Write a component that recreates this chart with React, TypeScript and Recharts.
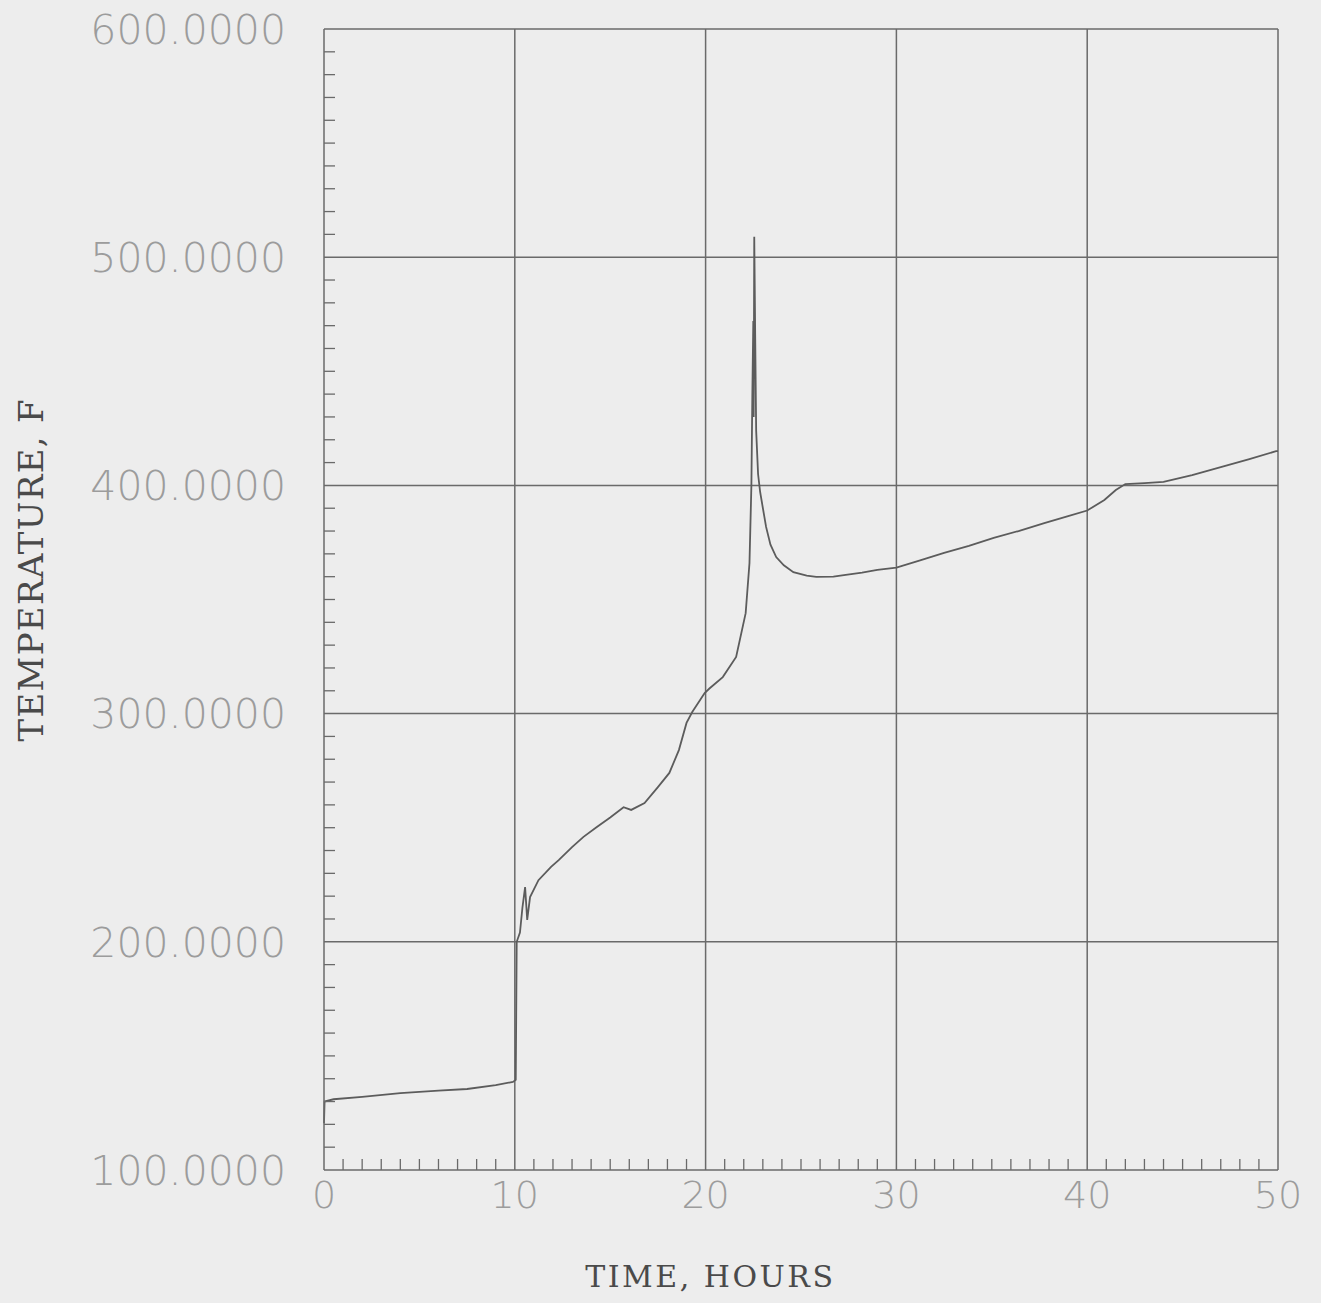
import { LineChart, Line, XAxis, YAxis, ReferenceLine } from 'recharts';

// Time in hours and temperature in degrees F
const hours = [
  0, 0.03, 0.5, 2, 4, 6, 7.5, 9, 9.9, 10.05,
  10.1, 10.27, 10.4, 10.54, 10.65, 10.8, 11.24, 11.9, 12.3, 13.0,
  13.6, 14.3, 15.0, 15.7, 16.1, 16.8, 17.5, 18.1, 18.6, 19.0,
  19.3, 19.95, 20.2, 20.9, 21.6, 22.1, 22.3, 22.4, 22.45, 22.5,
  22.52, 22.55, 22.6, 22.65, 22.75, 22.86, 23.17, 23.4, 23.7, 24.1,
  24.6, 25.3, 25.8, 26.7, 27.25, 28.2, 29.0, 30.0, 31.2, 32.5,
  33.8, 35.1, 36.4, 37.75, 39.0, 40.0, 40.9, 41.5, 42.0, 43.0,
  44.0, 45.5, 47.0, 48.5, 49.9, 50.0,
];
const temperatureF = [
  120.5, 130, 131, 132, 133.7, 134.8, 135.5, 137.2, 138.6, 139.5,
  200, 204, 215, 224, 209.6, 219.6, 227, 232.8, 235.8, 241.5,
  246, 250.3, 254.5, 259, 257.8, 260.8, 267.8, 274, 284, 295.9,
  300.7, 309, 311, 316, 324.8, 344, 366, 400, 440, 472,
  430, 509, 465, 424, 405, 397, 381.8, 374, 368.6, 365,
  362, 360.5, 359.9, 360, 360.7, 361.8, 363, 364, 367, 370.4,
  373.5, 377, 380, 383.5, 386.5, 389, 393.6, 398, 400.6, 401,
  401.5, 404.5, 408, 411.5, 415, 415,
];

const xMajor = [0, 10, 20, 30, 40, 50];
const yMajor = [100, 200, 300, 400, 500, 600];
const xAllTicks = Array.from({ length: 51 }, (_, i) => i);
const yAllTicks = Array.from({ length: 51 }, (_, i) => 100 + i * 10);

const data = hours.map((h, i) => ({ hours: h, temp: temperatureF[i] }));

const INK = '#6a6a6a';
const LABEL_GRAY = '#9c9c9c';
const X_MARGIN = 10;
const Y_MARGIN = 38;
const MINOR_LEN = 11;

function HourTick(props: any) {
  const { x, y, payload } = props;
  const axisY = y - X_MARGIN;
  const v = payload.value;
  if (v % 10 === 0) {
    return (
      <text x={x} y={axisY + 38} textAnchor="middle" fontFamily="DejaVu Sans" fontWeight={300}
        fontSize={38} fill={LABEL_GRAY}>{v}</text>
    );
  }
  return <line x1={x} x2={x} y1={axisY} y2={axisY - MINOR_LEN} stroke={INK} strokeWidth={1.3} />;
}

function TempTick(props: any) {
  const { x, y, payload } = props;
  const axisX = x + Y_MARGIN;
  const v = payload.value;
  if (v % 100 === 0) {
    return (
      <text x={x} y={y} dy="0.36em" textAnchor="end" fontFamily="DejaVu Sans" fontWeight={300}
        fontSize={41} fill={LABEL_GRAY}>{v.toFixed(4)}</text>
    );
  }
  return <line x1={axisX} x2={axisX + MINOR_LEN} y1={y} y2={y} stroke={INK} strokeWidth={1.3} />;
}

const renderXTitle = (props: any) => {
  const vb = props.viewBox;
  return (
    <text x={vb.x + vb.width * 0.405} y={vb.y + 117} textAnchor="middle" fontFamily="DejaVu Serif"
      fontSize={30} letterSpacing={2.5} fill="#4a4a4a">TIME, HOURS</text>
  );
};

const renderYTitle = (props: any) => {
  const vb = props.viewBox;
  const cx = vb.x + 31;
  const cy = vb.y + vb.height * 0.474;
  return (
    <text x={cx} y={cy} dy="0.36em" textAnchor="middle" transform={`rotate(-90 ${cx} ${cy})`}
      fontFamily="DejaVu Serif" fontSize={34} letterSpacing={1.3} fill="#4a4a4a">TEMPERATURE, F</text>
  );
};

export default function App() {
  return (
    <div style={{ position: 'absolute', left: 0, top: 0, width: 1321, height: 1303, background: '#ededed' }}>
      <LineChart width={1321} height={1303} data={data} margin={{ top: 29, right: 43, left: 0, bottom: 0 }}>
        <XAxis
          dataKey="hours"
          type="number"
          domain={[0, 50]}
          ticks={xAllTicks}
          interval={0}
          height={133}
          tickSize={0}
          tickMargin={X_MARGIN}
          tickLine={false}
          axisLine={{ stroke: INK, strokeWidth: 1.5 }}
          tick={<HourTick />}
          label={{ value: 'TIME, HOURS', content: renderXTitle }}
        />
        <YAxis
          type="number"
          domain={[100, 600]}
          ticks={yAllTicks}
          interval={0}
          width={324}
          tickSize={0}
          tickMargin={Y_MARGIN}
          tickLine={false}
          axisLine={{ stroke: INK, strokeWidth: 1.5 }}
          tick={<TempTick />}
          label={{ value: 'TEMPERATURE, F', content: renderYTitle }}
        />
        {xMajor.filter((v) => v > 0).map((v) => (
          <ReferenceLine key={`x${v}`} x={v} stroke={INK} strokeWidth={1.5} />
        ))}
        {yMajor.filter((v) => v > 100).map((v) => (
          <ReferenceLine key={`y${v}`} y={v} stroke={INK} strokeWidth={1.5} />
        ))}
        <Line
          type="linear"
          dataKey="temp"
          stroke="#5c5c5c"
          strokeWidth={1.8}
          dot={false}
          isAnimationActive={false}
        />
      </LineChart>
    </div>
  );
}
